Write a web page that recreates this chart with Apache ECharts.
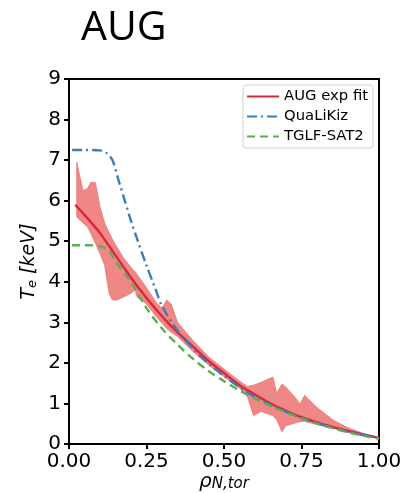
<!DOCTYPE html>
<html>
<head>
<meta charset="utf-8">
<script src="https://cdn.jsdelivr.net/npm/echarts@6/dist/echarts.min.js"></script>
<style>
  html, body { margin: 0; padding: 0; background: #fff; }
  #chart { width: 403px; height: 493px; }
</style>
</head>
<body>
<div id="chart"></div>
<script>
// Electron temperature profiles, AUG: experimental fit with its uncertainty band
// and two transport-model predictions.
const xTicks = [0, 0.25, 0.5, 0.75, 1.0];
const yTicks = [0, 1, 2, 3, 4, 5, 6, 7, 8, 9];

const expX = [0.02, 0.05, 0.1, 0.15, 0.2, 0.25, 0.3, 0.35, 0.4, 0.45, 0.5, 0.55, 0.6, 0.65, 0.7, 0.75, 0.8, 0.85, 0.9, 0.95, 1.0];
const expTe = [5.9, 5.65, 5.2, 4.65, 4.1, 3.6, 3.15, 2.75, 2.4, 2.05, 1.75, 1.45, 1.22, 1.0, 0.82, 0.66, 0.53, 0.42, 0.32, 0.23, 0.15];

const qlkX = [0.01, 0.05, 0.1, 0.12, 0.14, 0.16, 0.18, 0.2, 0.22, 0.25, 0.28, 0.3, 0.35, 0.4, 0.45, 0.5, 0.55, 0.6, 0.65, 0.7, 0.75, 0.8, 0.85, 0.9, 0.95, 1.0];
const qlkTe = [7.25, 7.25, 7.24, 7.18, 7.0, 6.5, 6.0, 5.5, 5.05, 4.4, 3.8, 3.4, 2.8, 2.35, 1.98, 1.68, 1.4, 1.16, 0.96, 0.79, 0.64, 0.51, 0.4, 0.3, 0.22, 0.15];

const tglfX = [0.01, 0.05, 0.1, 0.13, 0.15, 0.2, 0.25, 0.3, 0.35, 0.4, 0.45, 0.5, 0.55, 0.6, 0.65, 0.7, 0.75, 0.8, 0.85, 0.9, 0.95, 1.0];
const tglfTe = [4.9, 4.9, 4.88, 4.75, 4.5, 4.0, 3.35, 2.85, 2.45, 2.1, 1.8, 1.55, 1.32, 1.12, 0.94, 0.78, 0.63, 0.5, 0.39, 0.29, 0.2, 0.13];

// uncertainty band of the experimental fit
const bandX = [0.025, 0.045, 0.06, 0.07, 0.085, 0.1, 0.115, 0.13, 0.14, 0.155, 0.175, 0.2, 0.213, 0.22, 0.25, 0.28, 0.3, 0.315, 0.33, 0.35, 0.4, 0.45, 0.5, 0.55, 0.575, 0.595, 0.62, 0.658, 0.67, 0.687, 0.7, 0.735, 0.745, 0.76, 0.8, 0.85, 0.9, 0.95, 1.0];
const bandUpper = [6.95, 6.25, 6.3, 6.45, 6.45, 5.85, 5.45, 5.2, 5.05, 4.85, 4.6, 4.35, 4.25, 4.18, 3.85, 3.5, 3.35, 3.55, 3.45, 3.0, 2.55, 2.15, 1.85, 1.55, 1.42, 1.45, 1.52, 1.65, 1.25, 1.48, 1.4, 1.1, 0.98, 1.2, 0.9, 0.6, 0.4, 0.26, 0.16];
const bandLower = [5.6, 5.45, 5.35, 5.2, 4.95, 4.7, 4.4, 3.7, 3.55, 3.55, 3.62, 3.72, 3.8, 3.62, 3.45, 3.15, 2.98, 2.85, 2.75, 2.65, 2.28, 1.95, 1.66, 1.38, 1.18, 0.7, 0.8, 0.7, 0.6, 0.3, 0.45, 0.53, 0.55, 0.56, 0.48, 0.39, 0.3, 0.21, 0.14];

const seriesNames = ['AUG exp fit', 'QuaLiKiz', 'TGLF-SAT2'];
const colors = { exp: '#d9263b', qlk: '#3d7db6', tglf: '#5aae52', band: '#ef8787' };

const pairs = (xs, ys) => xs.map((x, i) => [x, ys[i]]);

const chart = echarts.init(document.getElementById('chart'), null, { renderer: 'canvas' });

const tickFont = { fontFamily: 'DejaVu Sans', fontSize: 20, color: '#000' };

chart.setOption({
  animation: false,
  title: {
    text: 'AUG',
    left: 76,
    top: 3,
    textStyle: { fontFamily: 'Open Sans', fontSize: 41, fontWeight: 'normal', color: '#000' }
  },
  grid: {
    left: 69, right: 24, top: 79, bottom: 49,
    containLabel: false,
    outerBoundsMode: 'none',
    show: true, borderColor: '#000', borderWidth: 2, backgroundColor: 'transparent'
  },
  legend: {
    data: seriesNames,
    orient: 'vertical',
    right: 30,
    top: 85,
    itemWidth: 32,
    itemHeight: 15,
    itemGap: 5,
    padding: [4, 5, 4, 3],
    itemStyle: { opacity: 0 },
    backgroundColor: '#fff',
    borderColor: '#d0d0d0',
    borderWidth: 1,
    borderRadius: 3,
    textStyle: { fontFamily: 'DejaVu Sans', fontSize: 14.8, color: '#000' }
  },
  xAxis: {
    type: 'value',
    min: 0, max: 1, interval: 0.25,
    name: '{r|ρ}{s|N,tor}',
    nameLocation: 'middle',
    nameGap: 24,
    nameMoveOverlap: false,
    nameTextStyle: {
      rich: {
        r: { fontFamily: 'DejaVu Sans', fontStyle: 'italic', fontSize: 20, lineHeight: 24, verticalAlign: 'bottom', color: '#000' },
        s: { fontFamily: 'DejaVu Sans', fontStyle: 'italic', fontSize: 15, lineHeight: 14, verticalAlign: 'bottom', color: '#000' }
      }
    },
    axisLine: { show: true, lineStyle: { color: '#000', width: 2 } },
    axisTick: { show: true, length: 5, lineStyle: { color: '#000', width: 2 } },
    axisLabel: Object.assign({ margin: 8, formatter: v => v.toFixed(2) }, tickFont),
    splitLine: { show: false }
  },
  yAxis: {
    type: 'value',
    min: 0, max: 9, interval: 1,
    name: '{i|T}{s|e}{i| [keV]}',
    nameLocation: 'middle',
    nameGap: 30,
    nameMoveOverlap: false,
    nameTextStyle: {
      rich: {
        i: { fontFamily: 'DejaVu Sans', fontStyle: 'italic', fontSize: 19, lineHeight: 22, verticalAlign: 'bottom', color: '#000' },
        s: { fontFamily: 'DejaVu Sans', fontStyle: 'italic', fontSize: 13, lineHeight: 12, verticalAlign: 'bottom', color: '#000' }
      }
    },
    axisLine: { show: true, lineStyle: { color: '#000', width: 2 } },
    axisTick: { show: true, length: 5, lineStyle: { color: '#000', width: 2 } },
    axisLabel: Object.assign({ margin: 8, formatter: v => String(v) }, tickFont),
    splitLine: { show: false }
  },
  series: [
    {
      // shaded uncertainty band: upper edge out, lower edge back
      type: 'custom',
      name: 'band',
      silent: true,
      z: 1,
      data: [0],
      renderItem: (params, api) => {
        const pts = [];
        bandX.forEach((x, i) => pts.push(api.coord([x, bandUpper[i]])));
        for (let i = bandX.length - 1; i >= 0; i--) pts.push(api.coord([bandX[i], bandLower[i]]));
        return {
          type: 'polygon',
          shape: { points: pts },
          style: { fill: colors.band, stroke: '#ea7575', lineWidth: 0.8 }
        };
      }
    },
    {
      name: seriesNames[0], type: 'line', z: 3,
      data: pairs(expX, expTe), showSymbol: false, symbol: 'none', smooth: 0.3,
      itemStyle: { color: colors.exp },
      lineStyle: { color: colors.exp, width: 2.4 }
    },
    {
      name: seriesNames[1], type: 'line', z: 4,
      data: pairs(qlkX, qlkTe), showSymbol: false, symbol: 'none', smooth: 0.3,
      itemStyle: { color: colors.qlk },
      lineStyle: { color: colors.qlk, width: 2.4, type: [10, 4, 2, 4] }
    },
    {
      name: seriesNames[2], type: 'line', z: 5,
      data: pairs(tglfX, tglfTe), showSymbol: false, symbol: 'none', smooth: 0.3,
      itemStyle: { color: colors.tglf },
      lineStyle: { color: colors.tglf, width: 2.4, type: [8, 5] }
    }
  ]
});
</script>
</body>
</html>
